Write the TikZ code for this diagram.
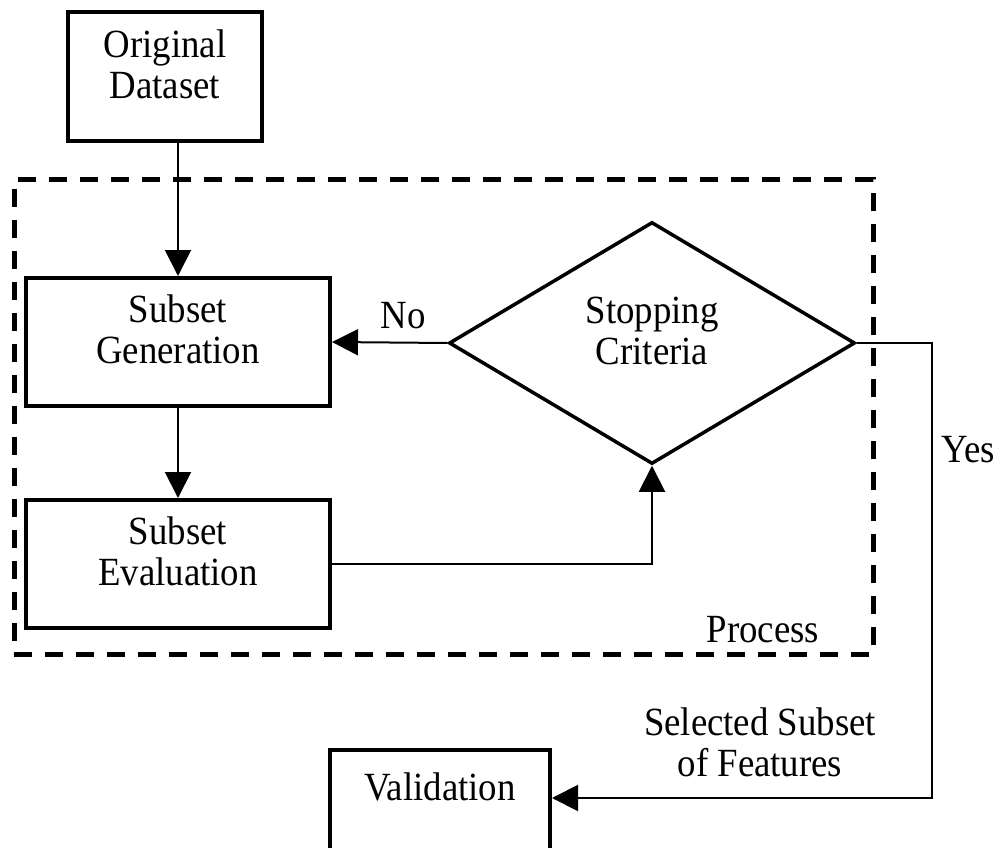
\documentclass[tikz,border=0pt]{standalone}
\usepackage{fontspec}
\setmainfont{Liberation Serif}[FakeStretch=0.92]
\usetikzlibrary{arrows.meta, positioning, shapes.geometric}

\begin{document}
\begin{tikzpicture}[x=1pt, y=-1pt,
  font=\fontsize{40}{41}\selectfont,
  box/.style={draw, line width=4pt, align=center, text depth=25pt,
    minimum width=304pt, minimum height=128pt},
  decision/.style={diamond, draw, line width=3.5pt, align=center, text depth=25pt,
    aspect=1.68, minimum width=406pt, minimum height=242pt, inner sep=0pt},
  region/.style={draw, line width=5pt, dash pattern=on 18pt off 13pt,
    minimum width=859pt, minimum height=474pt},
  flow/.style={line width=2pt},
  >={Triangle[length=26pt, width=26pt]}]
  \useasboundingbox (0,0) rectangle (1002,848);
  % dashed frame of the process
  \node[region] (proc) at (443.5,417) {};
  \node (proclabel) at (763,630) {Process};
  % boxes
  \node[box, minimum width=194pt, minimum height=129pt] (orig) at (165,77) {Original\\Dataset};
  \node[box] (gen) at (178,342) {Subset\\Generation};
  \node[box, below=90pt of gen] (eval) {Subset\\Evaluation};
  \node[decision] (crit) at (652,343) {Stopping\\Criteria};
  \node[box, minimum width=220pt, minimum height=0pt, text height=45pt,
    text depth=57pt, inner sep=5pt, anchor=north] (valid) at (440,748) {Validation};
  % labels
  \node (no) at (403,316) {No};
  \node (yes) at (968,450) {Yes};
  \node[align=center] (sel) at (760,742) {Selected Subset\\of Features};
  \coordinate (turn) at (932,798);
  % connectors
  \draw[flow, ->] (orig.south -| gen.north) -- (gen.north);
  \draw[flow, ->] (gen) -- (eval);
  \draw[flow, ->] (crit.west) -- (gen.east);
  \draw[flow, ->] (eval.east) -| (crit.south);
  \draw[flow, ->] (crit.east) -| (turn) -- (turn -| valid.east);
\end{tikzpicture}
\end{document}
